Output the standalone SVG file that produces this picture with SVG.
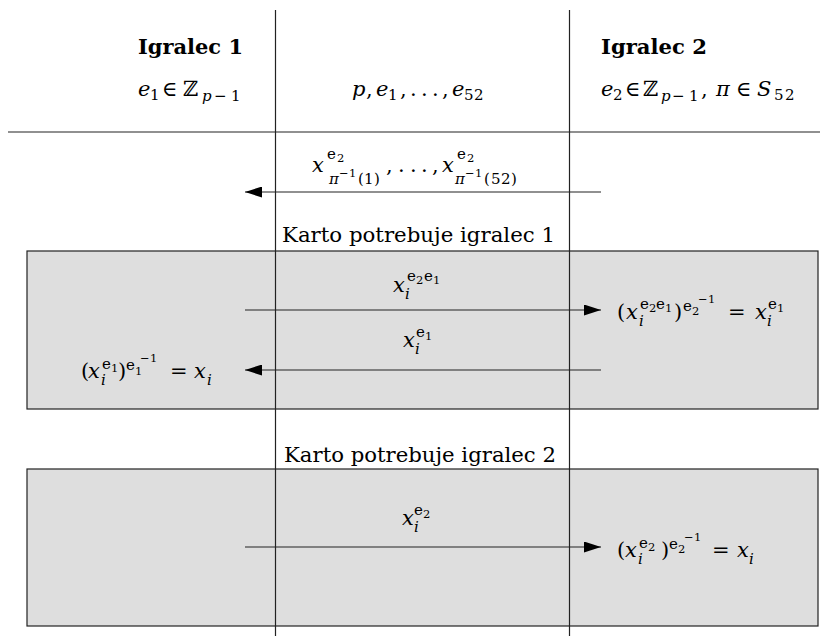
<svg xmlns="http://www.w3.org/2000/svg" width="827" height="639" viewBox="0 0 827 639">
<style>
text{font-family:'DejaVu Serif',serif;fill:#000}
.m{font-size:21px}
.hb{font-size:21px;font-weight:bold}
.mi{font-style:italic}
.s{font-size:15px}
.ss{font-size:11.5px}
.ln{stroke:#222;stroke-width:1.2;fill:none}
.box{fill:#dedede;stroke:#222;stroke-width:1.2}
.arr{stroke:#222;stroke-width:1.2;fill:none;marker-end:url(#ah)}
</style>
<defs>
<marker id="ah" markerUnits="userSpaceOnUse" markerWidth="18" markerHeight="11" refX="17" refY="5.5" orient="auto">
<path d="M0,0 L17,5.5 L0,11 z" fill="#000"/>
</marker>
</defs>
<rect width="827" height="639" fill="#fff"/>
<g id="box1"><rect class="box" x="27" y="251" width="791" height="158"/></g>
<g id="box2"><rect class="box" x="27" y="469" width="791" height="157"/></g>
<g id="lanes">
<line class="ln" x1="275.5" y1="10" x2="275.5" y2="636"/>
<line class="ln" x1="569.5" y1="10" x2="569.5" y2="636"/>
<line class="ln" x1="8" y1="132" x2="820" y2="132"/>
</g>
<g id="player1">
<text class="hb" x="138" y="54" textLength="105" lengthAdjust="spacingAndGlyphs">Igralec 1</text>
<text class="m"><tspan class="mi" x="138" y="96">e</tspan><tspan class="s" x="150" y="100">1</tspan><tspan x="162" y="96">∈</tspan><tspan x="183" y="96">ℤ</tspan><tspan class="s mi" x="202" y="101">p</tspan><tspan class="s" x="214 231" y="101">−1</tspan></text>
</g>
<g id="public">
<text class="m"><tspan class="mi" x="352" y="96">p</tspan><tspan x="366" y="96">,</tspan><tspan class="mi" x="376" y="96">e</tspan><tspan class="s" x="388" y="100">1</tspan><tspan x="400 410 421 432 442" y="96">,...,</tspan><tspan class="mi" x="452" y="96">e</tspan><tspan class="s" x="464 474" y="100">52</tspan></text>
</g>
<g id="player2">
<text class="hb" x="601" y="54" textLength="106" lengthAdjust="spacingAndGlyphs">Igralec 2</text>
<text class="m"><tspan class="mi" x="601" y="96">e</tspan><tspan class="s" x="613" y="100">2</tspan><tspan x="625" y="96">∈</tspan><tspan x="643" y="96">ℤ</tspan><tspan class="s mi" x="661" y="101">p</tspan><tspan class="s" x="672 689" y="101">−1</tspan><tspan x="701" y="96">,</tspan><tspan class="mi" x="716" y="96">π</tspan><tspan x="736" y="96">∈</tspan><tspan class="mi" x="757" y="96">S</tspan><tspan class="s" x="774 785" y="100">52</tspan></text>
</g>
<g id="labels">
<text class="m" x="282" y="242" textLength="273" lengthAdjust="spacingAndGlyphs">Karto potrebuje igralec 1</text>
<text class="m" x="284" y="462" textLength="272" lengthAdjust="spacingAndGlyphs">Karto potrebuje igralec 2</text>
</g>
<g id="connectors">
<line class="arr" x1="601" y1="192" x2="245" y2="192"/>
<line class="arr" x1="245" y1="310" x2="601" y2="310"/>
<line class="arr" x1="601" y1="370" x2="245" y2="370"/>
<line class="arr" x1="245" y1="547" x2="601" y2="547"/>
<text class="m"><tspan class="mi" x="312" y="172">x</tspan><tspan class="s" x="327" y="159">e</tspan><tspan class="ss" x="337" y="162">2</tspan><tspan class="s mi" x="329" y="184">π</tspan><tspan class="ss" x="339 349" y="177">−1</tspan><tspan class="s" x="358 364 374" y="184">(1)</tspan><tspan x="386 398 410 421 432" y="172">,...,</tspan><tspan class="mi" x="442" y="172">x</tspan><tspan class="s" x="457" y="159">e</tspan><tspan class="ss" x="467" y="162">2</tspan><tspan class="s mi" x="455" y="184">π</tspan><tspan class="ss" x="465 475" y="177">−1</tspan><tspan class="s" x="484 491 501 511" y="184">(52)</tspan></text>
<text class="m"><tspan class="mi" x="393" y="292">x</tspan><tspan class="s mi" x="405" y="299">i</tspan><tspan class="s" x="407" y="281">e</tspan><tspan class="ss" x="416" y="284">2</tspan><tspan class="s" x="424" y="281">e</tspan><tspan class="ss" x="433" y="284">1</tspan></text>
<text class="m"><tspan x="617" y="319">(</tspan><tspan class="mi" x="626" y="319">x</tspan><tspan class="s mi" x="639" y="326">i</tspan><tspan class="s" x="640" y="309">e</tspan><tspan class="ss" x="649" y="312">2</tspan><tspan class="s" x="656" y="309">e</tspan><tspan class="ss" x="665" y="312">1</tspan><tspan x="674" y="319">)</tspan><tspan class="s" x="683" y="311">e</tspan><tspan class="ss" x="692" y="315">2</tspan><tspan class="ss" x="698 708" y="303">−1</tspan><tspan x="728" y="319">=</tspan><tspan class="mi" x="755" y="319">x</tspan><tspan class="s mi" x="767" y="326">i</tspan><tspan class="s" x="768" y="309">e</tspan><tspan class="ss" x="777" y="312">1</tspan></text>
<text class="m"><tspan class="mi" x="403" y="347">x</tspan><tspan class="s mi" x="415" y="354">i</tspan><tspan class="s" x="416" y="337">e</tspan><tspan class="ss" x="425" y="340">1</tspan></text>
<text class="m"><tspan x="81" y="378">(</tspan><tspan class="mi" x="88" y="378">x</tspan><tspan class="s mi" x="101" y="385">i</tspan><tspan class="s" x="102" y="369">e</tspan><tspan class="ss" x="111" y="372">1</tspan><tspan x="118" y="378">)</tspan><tspan class="s" x="126" y="370">e</tspan><tspan class="ss" x="135" y="375">1</tspan><tspan class="ss" x="140 150" y="362">−1</tspan><tspan x="170" y="378">=</tspan><tspan class="mi" x="194" y="378">x</tspan><tspan class="s mi" x="207" y="385">i</tspan></text>
<text class="m"><tspan class="mi" x="402" y="525">x</tspan><tspan class="s mi" x="414" y="532">i</tspan><tspan class="s" x="414" y="515">e</tspan><tspan class="ss" x="423" y="518">2</tspan></text>
<text class="m"><tspan x="617" y="557">(</tspan><tspan class="mi" x="625" y="557">x</tspan><tspan class="s mi" x="638" y="564">i</tspan><tspan class="s" x="639" y="548">e</tspan><tspan class="ss" x="648" y="551">2</tspan><tspan x="661" y="557">)</tspan><tspan class="s" x="669" y="549">e</tspan><tspan class="ss" x="678" y="553">2</tspan><tspan class="ss" x="684 694" y="541">−1</tspan><tspan x="712" y="557">=</tspan><tspan class="mi" x="737" y="557">x</tspan><tspan class="s mi" x="749" y="564">i</tspan></text>
</g>
</svg>
